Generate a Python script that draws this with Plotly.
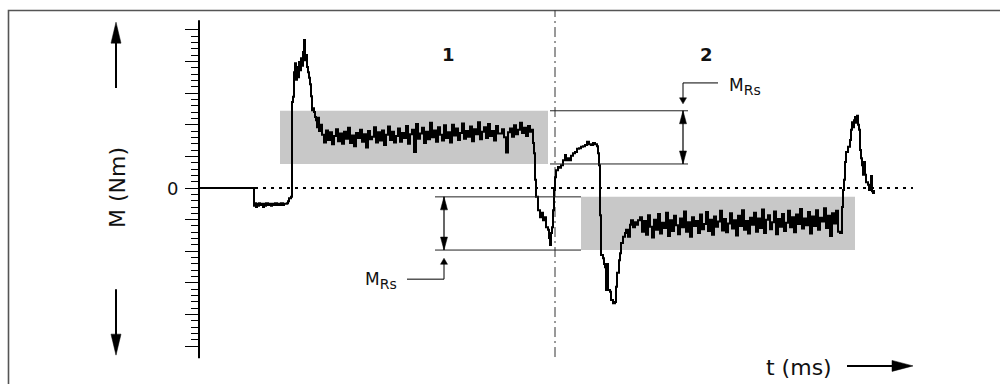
import plotly.graph_objects as go

# ---------------- data: torque M (Nm) over time t (ms) ----------------
t_idle = [0, 54]
M_idle = [0.0, 0.0]

t_dip = [55, 56, 57, 58, 59, 60, 61, 62, 64, 65, 66, 67, 69, 70, 72, 73, 75, 76, 78, 79,
         81, 82, 84, 85, 87, 88, 89, 90, 92]
M_dip = [-2.8, -2.4, -3.0, -2.5, -2.8, -2.4, -2.7, -2.5, -3.0, -2.5, -2.8, -2.4, -2.7, -2.5,
         -2.8, -2.5, -2.7, -2.4, -2.7, -2.5, -2.7, -2.4, -2.7, -2.5, -2.5, -2.4, -2.1, -1.6, -1.4]

t_peak = list(range(93, 122))
M_peak = [13.6, 14.4, 18.3, 19.7, 17.1, 19.1, 17.5, 19.9, 18.6, 20.5, 19.3, 21.5, 23.4, 20.2,
          21.0, 19.1, 18.3, 17.4, 16.4, 14.5, 12.3, 12.6, 12.0, 11.2, 10.7, 9.6, 11.1, 9.0, 10.0]

t_plat1 = list(range(123, 332, 2))
M_plat1 = [8.4, 7.2, 9.1, 7.6, 8.8, 6.9, 8.2, 9.3, 7.4, 8.6, 7.0, 8.9, 7.8, 9.5, 7.1, 8.3, 6.6, 8.7, 7.9, 9.2,
           7.3, 8.5, 6.4, 9.0, 7.7, 8.1, 9.6, 7.2, 8.8, 7.5, 9.1, 6.8, 8.4, 9.7, 7.6, 8.9, 7.2, 8.2, 9.4, 7.3,
           8.7, 7.9, 9.8, 7.0, 8.5, 9.2, 5.7, 10.1, 7.8, 8.6, 9.5, 7.1, 8.9, 7.7, 10.3, 8.0, 9.1, 7.3, 9.6, 8.4,
           7.5, 9.9, 7.9, 8.8, 7.2, 10.0, 8.3, 9.4, 7.6, 8.7, 10.2, 7.8, 9.0, 8.1, 9.7, 7.4, 9.3, 8.5, 10.4, 7.7,
           8.9, 9.6, 7.9, 10.1, 8.2, 9.0, 7.5, 9.8, 8.6, 8.6, 9.3, 8.0, 5.6, 8.8, 9.4, 8.1, 9.9, 8.5, 9.2, 10.3,
           8.7, 9.5, 8.2, 9.8, 8.9]

t_trans = [333, 334, 335, 336, 337, 339, 341, 342, 344, 346, 347, 349, 350, 351, 352, 353, 354, 355,
           356, 357, 359, 361, 362, 364, 366, 367, 369, 371, 372, 374, 376, 378, 380, 382, 384, 386,
           388, 390, 392, 394, 396, 398, 399, 400, 401, 402, 404, 405, 406, 407, 408, 409, 411, 412,
           414, 416, 417, 418, 420, 421, 422, 424, 426, 427, 429, 431, 432, 434, 436, 437, 439]
M_trans = [9.2, 7.1, 5.5, 1.3, -1.4, -3.5, -4.6, -3.9, -5.1, -4.6, -6.2, -6.6, -7.9, -9.0, -7.1, -6.2,
           -3.5, -0.3, 1.7, 2.8, 3.3, 3.2, 3.6, 4.4, 5.2, 4.4, 4.7, 4.4, 5.1, 5.5, 5.7, 6.2, 6.3, 6.5,
           6.6, 6.8, 7.3, 6.9, 6.8, 7.1, 6.9, 6.6, 5.5, 3.6, -4.3, -10.6, -11.1, -12.0, -12.5, -16.1,
           -12.0, -16.1, -16.4, -17.7, -18.2, -18.0, -15.6, -13.4, -11.4, -10.3, -8.7, -7.7, -7.1,
           -6.6, -7.7, -5.8, -5.1, -6.2, -5.4, -5.8, -5.1]

t_plat2 = list(range(441, 640, 2))
M_plat2 = [-4.6, -6.9, -5.2, -7.4, -4.3, -6.1, -7.8, -5.0, -6.6, -4.1, -7.2, -5.5, -6.3, -3.9, -7.6, -5.1, -6.8, -4.4, -5.9, -7.3,
           -4.8, -6.2, -3.7, -6.9, -5.4, -7.7, -4.6, -6.0, -5.2, -7.1, -4.2, -6.5, -5.7, -3.8, -6.8, -5.0, -7.4, -4.5, -6.1, -5.3,
           -3.6, -6.7, -4.9, -7.0, -5.6, -4.0, -6.4, -5.1, -7.5, -4.4, -6.0, -3.5, -6.6, -5.2, -7.2, -4.7, -5.8, -3.9, -6.9, -4.8,
           -6.3, -3.4, -7.1, -5.0, -4.3, -6.5, -5.4, -3.7, -7.3, -4.9, -6.1, -4.1, -6.8, -5.5, -3.6, -6.2, -4.6, -7.0, -4.2, -5.7,
           -3.3, -6.4, -4.8, -5.9, -3.8, -7.2, -4.5, -6.0, -3.5, -6.6, -4.7, -5.3, -3.2, -6.3, -4.4, -7.6, -4.0, -5.6, -3.6, -6.9]

t_end = [641, 643, 644, 645, 646, 647, 649, 651, 652, 653, 654, 655, 656, 657, 658, 659, 660, 661,
         662, 663, 664, 665, 666, 667, 669, 670, 671, 672, 673, 674, 675]
M_end = [-7.1, -3.0, -0.3, 1.3, 4.1, 5.7, 6.5, 7.6, 9.2, 10.4, 9.6, 10.7, 11.2, 10.3, 11.4, 10.0,
         9.2, 6.0, 4.7, 3.6, 2.1, 4.1, 2.1, 0.9, 0.5, -0.3, 0.0, 1.9, -0.5, -0.8, -0.3]

# friction-torque bands (M_Rs) for phases 1 and 2
band1_t = [81, 349]
band1_M = [3.8, 12.2]
band2_t = [382, 656]
band2_M = [-9.8, -1.4]
phase_boundary_t = 356
zero_line_t = [0, 714]
phase_labels = ["1", "2"]
phase_label_t = [249.5, 507]
y_major = list(range(-25, 26, 5))
y_minor = [v for v in range(-25, 26) if v % 5]

# ---------------- figure ----------------
t_all = t_idle + t_dip + t_peak + t_plat1 + t_trans + t_plat2 + t_end
M_all = M_idle + M_dip + M_peak + M_plat1 + M_trans + M_plat2 + M_end

W, H = 1000, 384
X_RANGE = [-199, 801]
Y_RANGE = [-30.96, 29.70]

FONT = "DejaVu Sans"
INK = "#111111"
DIM = "#222222"

fig = go.Figure()
fig.add_trace(go.Scatter(x=t_all, y=M_all, mode="lines",
                         line=dict(color="#000000", width=2.0, shape="hv"),
                         hoverinfo="skip", showlegend=False))

shapes = []
# outer frame
shapes.append(dict(type="rect", xref="paper", yref="paper", x0=8.5 / W, x1=1.05, y0=-0.1,
                   y1=(H - 10.5) / H, line=dict(color="#555555", width=1.6), layer="below"))
# bands
for bt, bm in [(band1_t, band1_M), (band2_t, band2_M)]:
    shapes.append(dict(type="rect", xref="x", yref="y", x0=bt[0], x1=bt[1], y0=bm[0], y1=bm[1],
                       fillcolor="#c8c8c8", line=dict(width=0), layer="below"))
# zero dotted line
shapes.append(dict(type="line", xref="x", yref="y", x0=zero_line_t[0], x1=zero_line_t[1], y0=0, y1=0,
                   line=dict(color="#000000", width=2, dash="3px,5px"), layer="below"))
# phase boundary dash-dot
shapes.append(dict(type="line", xref="x", yref="y", x0=phase_boundary_t, x1=phase_boundary_t,
                   y0=-26.7, y1=28.1, line=dict(color="#333333", width=1, dash="10px,4px,2px,4px"),
                   layer="below"))
# y axis line
shapes.append(dict(type="line", xref="x", yref="y", x0=0, x1=0, y0=-26.9, y1=26.5,
                   line=dict(color="#000000", width=2)))


def seg(x0, y0, x1, y1, w=1, c=DIM):
    return dict(type="line", xref="x", yref="y", x0=x0, x1=x1, y0=y0, y1=y1,
                line=dict(color=c, width=w))


def head(t, m, d, L, Wd, c="#000000"):
    hw = Wd / 2
    if d == "up":
        p = f"M0,0 L{-hw},{-L} L{hw},{-L} Z"
    elif d == "down":
        p = f"M0,0 L{-hw},{L} L{hw},{L} Z"
    else:
        p = f"M0,0 L{-L},{-hw} L{-L},{hw} Z"
    return dict(type="path", xref="x", yref="y", xsizemode="pixel", ysizemode="pixel",
                xanchor=t, yanchor=m, path=p, fillcolor=c, line=dict(color=c, width=0.5))


# dimension lines at band edges
ux0, ux1 = band1_t[1] + 2, 489
for m in band1_M:
    shapes.append(seg(ux0, m, ux1, m))
lx0, lx1 = 236, band2_t[0]
for m in band2_M:
    shapes.append(seg(lx0, m, lx1, m))

# double arrows
for tx, bm in [(484, band1_M), (245, band2_M)]:
    shapes.append(seg(tx, bm[0], tx, bm[1], w=1.2, c="#000000"))
    shapes.append(head(tx, bm[1], "up", 13, 7))
    shapes.append(head(tx, bm[0], "down", 13, 7))

# label leaders
shapes.append(seg(484, 16.6, 519, 16.6, c="#000000"))
shapes.append(seg(484, 16.6, 484, 13.6, c="#000000"))
shapes.append(head(484, 13.3, "down", 6, 7))
shapes.append(seg(208, -14.4, 245, -14.4, c="#000000"))
shapes.append(seg(245, -14.4, 245, -11.4, c="#000000"))
shapes.append(head(245, -11.1, "up", 6, 7))

# big direction arrows
shapes.append(seg(-83, 15.8, -83, 24.0, w=2, c="#000000"))
shapes.append(head(-83, 26.2, "up", 21, 10))
shapes.append(seg(-83, -16.0, -83, -24.0, w=2, c="#000000"))
shapes.append(head(-83, -26.4, "down", 21, 10))
shapes.append(seg(648, -28.1, 700, -28.1, w=2, c="#000000"))
shapes.append(head(714, -28.1, "right", 21, 11))

MRS = "M<sub><span style='font-size:14px'>Rs</span></sub>"
annotations = [
    dict(x=-27, y=0, text="0", font=dict(family=FONT, size=18, color=INK)),
    dict(x=-82, y=0, text="M (Nm)", textangle=-90, font=dict(family=FONT, size=22, color=INK)),
    dict(x=600, y=-28.3, text="t (ms)", font=dict(family=FONT, size=22, color=INK)),
    dict(x=528, y=16.0, text=MRS, xanchor="left", font=dict(family=FONT, size=17, color=INK)),
    dict(x=200, y=-14.6, text=MRS, xanchor="right", font=dict(family=FONT, size=17, color=INK)),
]
for lab, lt in zip(phase_labels, phase_label_t):
    annotations.append(dict(x=lt, y=21.1, text=f"<b>{lab}</b>",
                            font=dict(family=FONT, size=18, color=INK)))
for a in annotations:
    a.update(xref="x", yref="y", showarrow=False)
    a.setdefault("xanchor", "center")
    a.setdefault("yanchor", "middle")

fig.update_layout(
    width=W, height=H,
    margin=dict(l=0, r=0, t=0, b=0, pad=0, autoexpand=False),
    paper_bgcolor="white", plot_bgcolor="white",
    showlegend=False,
    xaxis=dict(range=X_RANGE, showgrid=False, zeroline=False, showline=False,
               showticklabels=False, ticks="", fixedrange=True),
    yaxis=dict(range=Y_RANGE, anchor="free", position=199 / W, showgrid=False, zeroline=False,
               showline=False, showticklabels=False, ticks="outside", tickvals=y_major,
               ticklen=14, tickwidth=1, tickcolor="#000000", fixedrange=True,
               minor=dict(tickvals=y_minor, ticks="outside", ticklen=8, tickwidth=1,
                          tickcolor="#000000", showgrid=False)),
    shapes=shapes,
    annotations=annotations,
)

fig.write_html("out.html", config={"displayModeBar": False},
               post_script="document.body.style.margin='0';document.body.style.overflow='hidden';")
